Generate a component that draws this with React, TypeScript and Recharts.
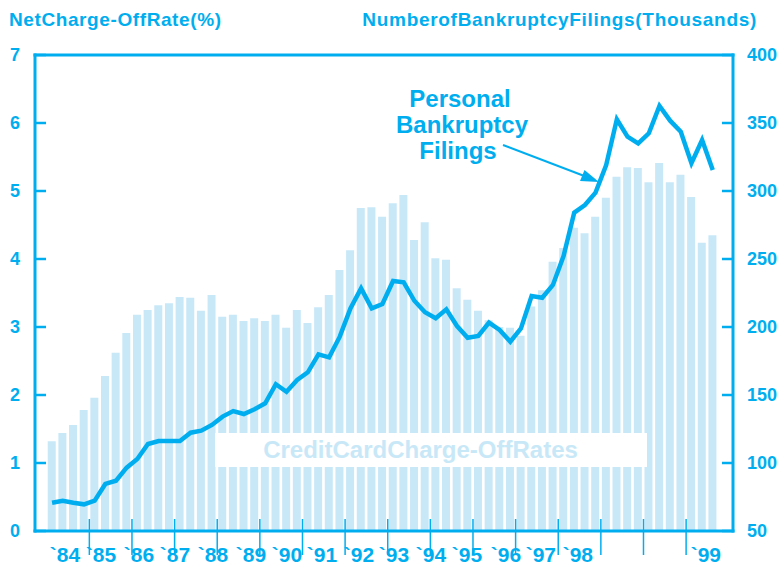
import React from 'react';
import { ComposedChart, Bar, Line, XAxis, YAxis } from 'recharts';

// Quarterly data, 1984 Q1 .. 1999 Q3
const chargeOffRate = [
  1.32, 1.44, 1.56, 1.78, 1.96, 2.28, 2.62, 2.91, 3.18, 3.25,
  3.32, 3.35, 3.44, 3.43, 3.24, 3.47, 3.15, 3.18, 3.09, 3.13,
  3.09, 3.18, 2.99, 3.25, 3.06, 3.29, 3.47, 3.84, 4.13, 4.75,
  4.76, 4.62, 4.82, 4.94, 4.28, 4.54, 4.01, 3.99, 3.57, 3.40,
  3.24, 3.10, 3.00, 2.99, 2.87, 3.30, 3.54, 3.96, 4.16, 4.46,
  4.38, 4.62, 4.90, 5.21, 5.35, 5.34, 5.13, 5.41, 5.13, 5.24,
  4.91, 4.24, 4.35,
];

const bankruptcyFilings = [
  70.8, 72.3, 70.8, 69.6, 72.3, 84.6, 87.0, 96.6, 102.9, 114.0,
  116.2, 116.2, 116.2, 122.3, 123.8, 128.0, 134.1, 138.2, 136.0, 139.5,
  143.9, 157.9, 152.4, 161.0, 166.7, 179.9, 177.7, 192.9, 213.7, 228.4,
  213.7, 216.9, 233.8, 232.9, 219.3, 210.8, 206.4, 213.0, 200.7, 192.1,
  193.4, 203.2, 197.8, 189.2, 199.0, 222.8, 221.5, 230.9, 252.2, 284.1,
  289.7, 298.8, 319.1, 352.7, 339.9, 335.0, 342.4, 362.5, 351.7, 343.6,
  320.4, 337.5, 315.4,
];

const yearLabels = ['`84', '`85', '`86', '`87', '`88', '`89', '`90', '`91', '`92', '`93', '`94', '`95', '`96', '`97', '`98', '`99'];
// label positions along the quarter axis (in quarter units)
const yearLabelPos = [1.22, 4.6, 8.16, 11.54, 15.1, 18.67, 22.05, 25.33, 28.8, 32.08, 35.55, 38.93, 42.59, 45.87, 49.34, 61.35];
// year boundary tick marks (between Q4 and Q1)
const yearBoundaries = [3.5, 7.5, 11.5, 15.5, 19.5, 23.5, 27.5, 31.5, 35.5, 39.5, 43.5, 47.5, 51.5, 55.5, 59.5];

const leftTicks = [0, 1, 2, 3, 4, 5, 6, 7];
const rightTicks = [50, 100, 150, 200, 250, 300, 350, 400];

const data = chargeOffRate.map((rate, i) => ({ q: i, rate, filings: bankruptcyFilings[i] }));

const BLUE = '#00AEEF';
const LIGHT = '#C8E8F8';
const FONT = '"Liberation Sans", Arial, Helvetica, sans-serif';
const X_DOMAIN: [number, number] = [-1.6, 63.9];

const labelMap = new Map<number, string>();
yearLabelPos.forEach((p, i) => labelMap.set(p, yearLabels[i]));

const LeftTick = (props: any) => {
  const { x, y, payload } = props;
  return (
    <g>
      <line x1={x} x2={x + 11} y1={y} y2={y} stroke={BLUE} strokeWidth={2.5} />
      <text x={x - 20} y={y} dy="0.36em" textAnchor="middle" fill={BLUE} fontFamily={FONT} fontWeight="bold" fontSize={18}>
        {payload.value}
      </text>
    </g>
  );
};

const RightTick = (props: any) => {
  const { x, y, payload } = props;
  return (
    <g>
      <line x1={x - 11} x2={x} y1={y} y2={y} stroke={BLUE} strokeWidth={2.5} />
      <text x={x + 14} y={y} dy="0.36em" textAnchor="start" fill={BLUE} fontFamily={FONT} fontWeight="bold" fontSize={18}>
        {payload.value}
      </text>
    </g>
  );
};

const BottomTick = (props: any) => {
  const { x, y, payload } = props;
  const lab = labelMap.get(payload.value);
  if (lab !== undefined) {
    return (
      <text x={x} y={y + 31} textAnchor="middle" fill={BLUE} fontFamily={FONT} fontWeight="bold" fontSize={21}>
        {lab}
      </text>
    );
  }
  return <line x1={x} x2={x} y1={y - 12} y2={y + 24} stroke={BLUE} strokeWidth={1.5} />;
};

const axisLineStyle = { stroke: BLUE, strokeWidth: 3, strokeLinecap: 'square' as const };

export default function App() {
  return (
    <div style={{ position: 'absolute', left: 0, top: 0, width: 782, height: 565, background: '#fff' }}>
      <ComposedChart
        width={782}
        height={565}
        data={data}
        margin={{ top: 54, right: 0, bottom: 0, left: 0 }}
      >
        <XAxis
          dataKey="q"
          type="number"
          domain={X_DOMAIN}
          allowDataOverflow
          ticks={[...yearBoundaries, ...yearLabelPos]}
          interval={0}
          height={34}
          tickSize={0}
          tickMargin={0}
          tickLine={false}
          axisLine={axisLineStyle}
          tick={<BottomTick />}
        />
        <XAxis
          xAxisId="top"
          orientation="top"
          type="number"
          domain={X_DOMAIN}
          allowDataOverflow
          height={1}
          tick={false}
          tickLine={false}
          axisLine={axisLineStyle}
        />
        <YAxis
          yAxisId="left"
          domain={[0, 7]}
          ticks={leftTicks}
          interval={0}
          width={35}
          tickSize={0}
          tickMargin={0}
          tickLine={false}
          axisLine={axisLineStyle}
          tick={<LeftTick />}
        />
        <YAxis
          yAxisId="right"
          orientation="right"
          domain={[50, 400]}
          ticks={rightTicks}
          interval={0}
          width={49}
          tickSize={0}
          tickMargin={0}
          tickLine={false}
          axisLine={axisLineStyle}
          tick={<RightTick />}
        />
        <Bar yAxisId="left" dataKey="rate" fill={LIGHT} barSize={8} isAnimationActive={false} />
        <Line
          yAxisId="right"
          dataKey="filings"
          type="linear"
          stroke={BLUE}
          strokeWidth={4.5}
          dot={false}
          activeDot={false}
          isAnimationActive={false}
        />
      </ComposedChart>
      <svg
        width={782}
        height={565}
        style={{ position: 'absolute', left: 0, top: 0, pointerEvents: 'none' }}
      >
        <g fontFamily={FONT} fontWeight="bold" fill={BLUE}>
          <text x={9} y={26} fontSize={19} letterSpacing={0.6}>NetCharge-OffRate(%)</text>
          <text x={757} y={26} fontSize={19} letterSpacing={0.7} textAnchor="end">NumberofBankruptcyFilings(Thousands)</text>
          <text x={460} y={107} fontSize={24} textAnchor="middle">Personal</text>
          <text x={462} y={133} fontSize={24} textAnchor="middle">Bankruptcy</text>
          <text x={458} y={159} fontSize={24} textAnchor="middle">Filings</text>
        </g>
        <line x1={503} y1={145} x2={583} y2={175.5} stroke={BLUE} strokeWidth={2} />
        <polygon points="599,182 580,181 584.5,170" fill={BLUE} />
        <rect x={215} y={433} width={432} height={34} fill="#fff" />
        <text x={420.5} y={458} fontSize={24} fontFamily={FONT} fontWeight="bold" fill={LIGHT} textAnchor="middle">
          CreditCardCharge-OffRates
        </text>
      </svg>
    </div>
  );
}
